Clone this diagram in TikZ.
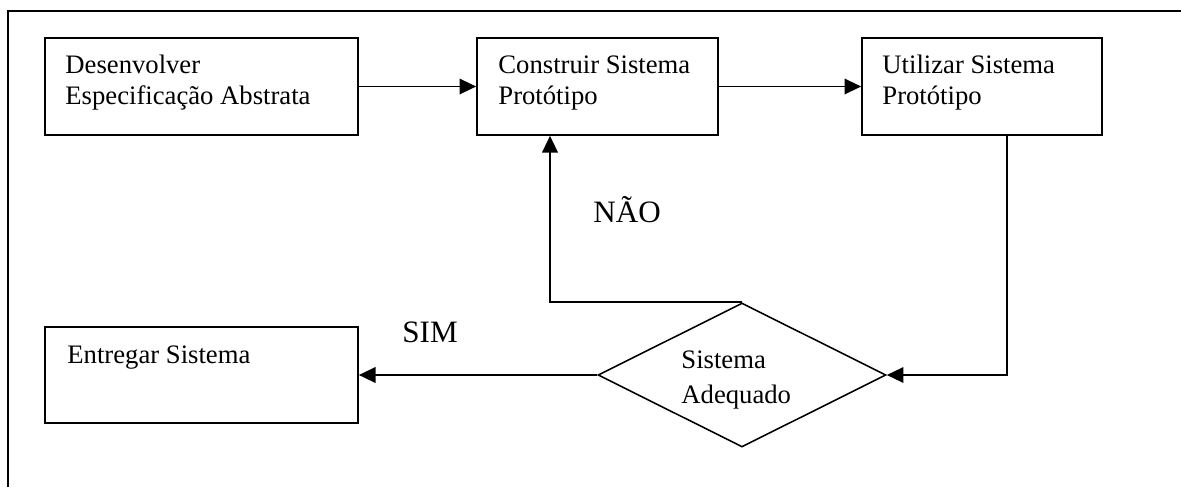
\documentclass[tikz,border=0pt]{standalone}
\usepackage{fontspec}
\setmainfont{Liberation Serif}
\usetikzlibrary{shapes.geometric,arrows.meta}
\tikzset{
  box/.style={draw,line width=0.75pt,rectangle,inner sep=0pt,minimum height=43.65pt},
  dec/.style={draw,line width=0.7pt,diamond,inner sep=0pt,minimum width=129.6pt,minimum height=64.8pt},
  txt/.style={anchor=base west,inner sep=0pt,font=\fontsize{12pt}{14pt}\selectfont},
  lbl/.style={anchor=base west,inner sep=0pt,font=\fontsize{14pt}{16pt}\selectfont},
  arr/.style={line width=0.75pt,-{Triangle[length=7.5pt,width=7pt]}},
  ln/.style={line width=0.75pt}
}
\begin{document}
\begin{tikzpicture}[x=0.45pt,y=-0.45pt]
\useasboundingbox (0,0) rectangle (1181,487);
% frame
\draw[line width=0.8pt] (8,487) -- (8,11) -- (1181,11);
% boxes
\node[box,minimum width=140.85pt] (b1) at (201.5,86.5) {};
\node[box,minimum width=108.45pt] (b2) at (597.5,86.5) {};
\node[box,minimum width=108pt] (b3) at (982,86.5) {};
\node[box,minimum width=140.85pt,minimum height=43.2pt] (b4) at (201.5,375) {};
\node[dec] (dia) at (742,375) {};
% texts
\node[txt] (t1a) at (65,73) {Desenvolver};
\node[txt] (t1b) at (65,104) {Especificação Abstrata};
\node[txt] (t2a) at (498,73) {Construir Sistema};
\node[txt] (t2b) at (498,104) {Protótipo};
\node[txt] (t3a) at (882,73) {Utilizar Sistema};
\node[txt] (t3b) at (882,104) {Protótipo};
\node[txt] (t4) at (67,363) {Entregar Sistema};
\node[txt] (t5a) at (681,368) {Sistema};
\node[txt] (t5b) at (681,403) {Adequado};
\node[lbl] (nao) at (593,222) {NÃO};
\node[lbl] (sim) at (402,342) {SIM};
% connectors
\draw[arr] (b1.east) -- (b2.west);
\draw[arr] (b2.east) -- (b3.west);
\draw[arr] ([xshift=11.25pt]b3.south) |- (dia.east);
\draw[arr] (dia.north) -| ([xshift=-21.375pt]b2.south);
\draw[arr] (dia.west) -- (b4.east);
\end{tikzpicture}
\end{document}
